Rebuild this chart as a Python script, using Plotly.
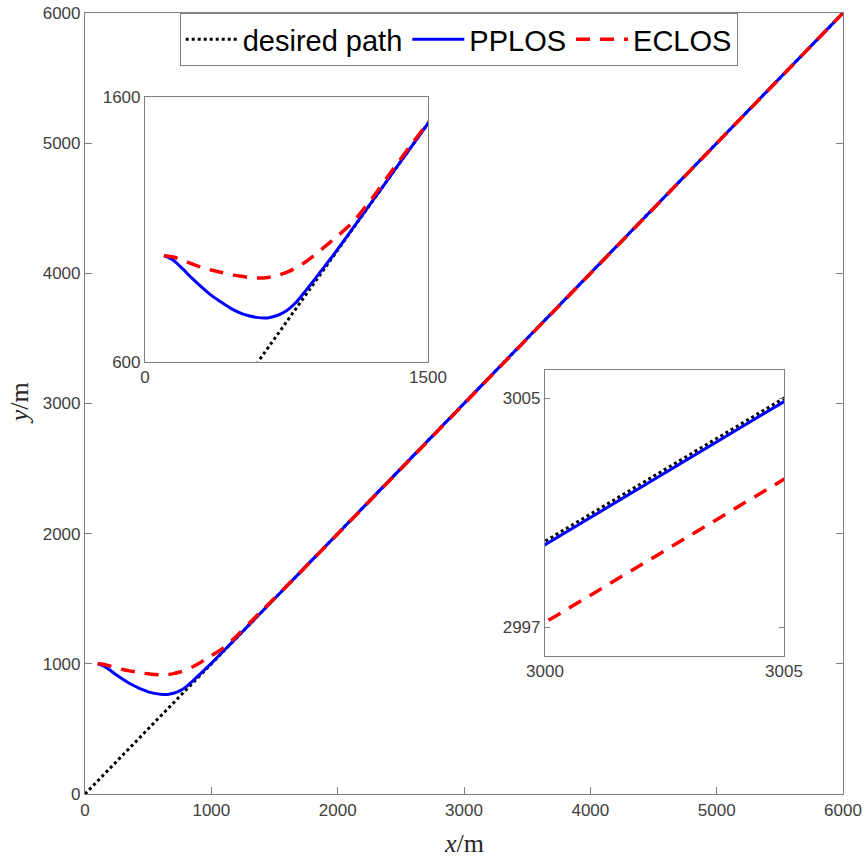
import plotly.graph_objects as go

# ---- data (metres) ----
desired_x = [0, 3000, 3005, 6000]
desired_y = [0, 3000, 3005, 6000]

pplos_x = [100, 150, 200, 250, 300, 350, 400, 450, 500, 550, 600, 650, 700, 750, 800,
           850, 900, 950, 1000, 1100, 1200, 1300, 1400, 1500, 2000, 2500, 3000, 3005,
           4000, 5000, 6000]
pplos_y = [1000, 983, 950, 914, 881, 851, 826, 803, 785, 773, 766, 765, 774, 792, 823,
           866, 911, 958, 1004, 1102, 1201, 1300.4, 1400.1, 1500, 1999.9, 2499.9,
           2999.88, 3004.88, 3999.92, 4999.95, 5999.97]

eclos_x = [100, 150, 200, 250, 300, 350, 400, 450, 500, 550, 600, 650, 700, 750, 800,
           850, 900, 950, 1000, 1100, 1200, 1300, 1400, 1500, 1600, 1800, 2000, 2500,
           3000, 3005, 4000, 5000, 6000]
eclos_y = [1000, 995, 983, 969, 956, 946, 938, 930, 923, 918, 916, 918, 925, 937, 954,
           976, 1003, 1032, 1062, 1126, 1213, 1312, 1409, 1503, 1601, 1798.5, 1997.5,
           2497, 2997.17, 3002.17, 3997.8, 4998.5, 5999.5]

main_ticks = [0, 1000, 2000, 3000, 4000, 5000, 6000]
inset1_xticks = [0, 1500]
inset1_yticks = [600, 1600]
inset2_xticks = [3000, 3005]
inset2_yticks = [2997, 3005]

names = ["desired path", "PPLOS", "ECLOS"]

# ---- figure ----
fig = go.Figure()

axes_sets = [("x", "y", True, "spline"), ("x2", "y2", False, "spline"), ("x3", "y3", False, "linear")]
for xa, ya, show, shape in axes_sets:
    fig.add_trace(go.Scatter(x=desired_x, y=desired_y, mode="lines", name=names[0],
                             line=dict(color="#000000", width=3, dash="3px,3px"),
                             xaxis=xa, yaxis=ya, showlegend=show))
    fig.add_trace(go.Scatter(x=pplos_x, y=pplos_y, mode="lines", name=names[1],
                             line=dict(color="#0000FF", width=3, shape=shape, smoothing=0.8),
                             xaxis=xa, yaxis=ya, showlegend=show))
    fig.add_trace(go.Scatter(x=eclos_x, y=eclos_y, mode="lines", name=names[2],
                             line=dict(color="#FF0000", width=3.5, dash="14px,10px",
                                       shape=shape, smoothing=0.8),
                             xaxis=xa, yaxis=ya, showlegend=show))

axcol = "#808080"
tickcol = "#404040"
tfont = dict(family="Liberation Sans, Arial, sans-serif", size=17, color=tickcol)

def ax(domain, rng, tickvals, anchor, ticklen):
    return dict(domain=domain, range=rng, tickvals=tickvals, ticktext=[str(v) for v in tickvals],
                anchor=anchor, showline=True, linecolor=axcol, linewidth=1.2,
                mirror="ticks", ticks="inside", ticklen=ticklen, tickcolor=axcol,
                showgrid=False, zeroline=False, tickfont=tfont, automargin=False)

fig.update_layout(
    width=865, height=862,
    margin=dict(l=85, r=22, t=13, b=68, autoexpand=False),
    plot_bgcolor="white", paper_bgcolor="white",
    xaxis=ax([0, 1], [0, 6000], main_ticks, "y", 7),
    yaxis=ax([0, 1], [0, 6000], main_ticks, "x", 7),
    xaxis2=ax([0.0792, 0.4525], [0, 1500], inset1_xticks, "y2", 5),
    yaxis2=ax([0.5537, 0.8926], [600, 1600], inset1_yticks, "x2", 5),
    xaxis3=ax([0.6069, 0.9222], [3000, 3005], inset2_xticks, "y3", 5),
    yaxis3=ax([0.1769, 0.5435], [2996, 3006], inset2_yticks, "x3", 5),
    legend=dict(orientation="h", x=0.493, xanchor="center", y=1.0, yanchor="top",
                bgcolor="white", bordercolor=axcol, borderwidth=1,
                font=dict(family="Liberation Sans, Arial, sans-serif", size=29, color="#000000"),
                itemwidth=52, tracegroupgap=0),
    showlegend=True,
)

fig.add_annotation(text="<i>x</i>/m", xref="paper", yref="paper", x=0.5, y=-0.064,
                   xanchor="center", yanchor="middle", showarrow=False,
                   font=dict(family="Liberation Serif, Times New Roman, serif", size=26, color="#262626"))
fig.add_annotation(text="<i>y</i>/m", xref="paper", yref="paper", x=-0.086, y=0.5,
                   xanchor="center", yanchor="middle", showarrow=False, textangle=-90,
                   font=dict(family="Liberation Serif, Times New Roman, serif", size=26, color="#262626"))

fig.write_html("out.html")
